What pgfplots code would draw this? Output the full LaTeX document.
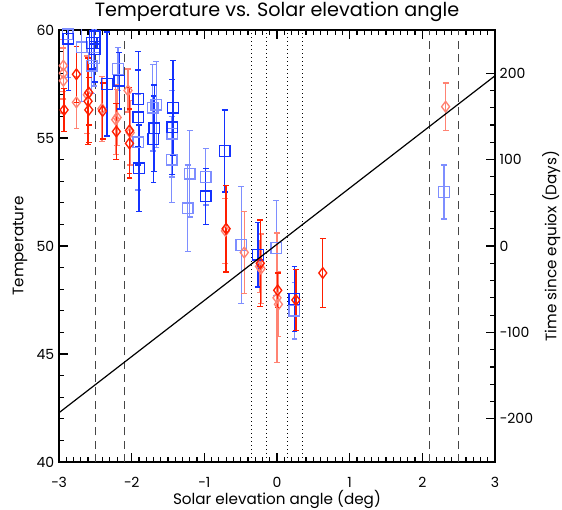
\documentclass[border=0pt]{standalone}
\usepackage{pgfplots}
\pgfplotsset{compat=1.18}
\usepackage{pgfplotstable}
\usepackage{fontspec}
\setmainfont{Poppins}
\definecolor{ired}{RGB}{255,30,0}
\definecolor{iblue}{RGB}{20,50,255}
\definecolor{dgray}{RGB}{70,70,70}

% blue squares, full colour
\pgfplotstableread{
x y e
-2.87 59.6 2.4
-2.55 59.4 1.2
-2.51 59.7 1.5
-2.51 59.4 1.2
-2.51 59.1 1.5
-2.34 57.5 2.4
-2.17 57.65 1.3
-1.91 56.8 2.2
-1.91 55.95 2.2
-1.90 53.6 2.0
-1.69 55.45 2.0
-1.70 54.95 2.0
-1.43 56.4 2.2
-1.44 55.5 2.2
-0.98 52.3 1.3
-0.72 54.4 1.9
-0.26 49.6 1.5
0.24 47.55 1.5
}\bluedark
% blue squares, faded
\pgfplotstableread{
x y e
-2.88 59.8 2.0
-2.69 59.2 2.5
-2.52 58.7 1.3
-2.55 58.35 1.3
-2.19 58.2 1.0
-1.91 54.8 2.2
-1.71 56.4 2.0
-1.66 56.55 2.0
-1.44 55.2 2.0
-1.45 54.0 2.0
-1.20 53.35 2.0
-1.23 51.75 2.0
-0.98 53.2 1.3
-0.49 50.05 2.7
-0.01 49.9 2.2
0.24 47.0 1.3
2.30 52.5 1.25
}\bluelight
% red diamonds, full colour
\pgfplotstableread{
x y e
-2.93 56.3 1.0
-2.76 57.95 1.3
-2.60 56.7 2.0
-2.59 56.3 1.5
-2.59 57.1 1.5
-2.40 56.25 1.3
-2.21 55.3 1.3
-2.03 55.35 2.0
-2.03 54.75 1.6
-0.70 50.8 2.0
-0.23 49.2 2.0
0.01 47.95 0.8
0.26 47.5 1.4
0.63 48.75 1.6
}\reddark
% red diamonds, faded
\pgfplotstableread{
x y e
-2.94 58.35 1.2
-2.94 58.0 1.2
-2.94 57.65 1.5
-2.76 56.65 1.2
-2.61 57.0 1.8
-2.41 56.35 1.5
-2.22 55.85 1.6
-2.20 55.95 1.3
-2.05 57.2 1.0
-2.02 55.25 1.5
-0.71 50.7 1.5
-0.45 49.7 1.9
-0.22 48.95 1.6
-0.24 49.05 1.2
0.00 47.6 3.0
0.02 47.3 1.5
2.32 56.45 1.1
}\redlight

\pgfplotsset{
  errs/.style={only marks, line width=1pt, mark size=4pt,
    error bars/y dir=both, error bars/y explicit,
    error bars/error bar style={line width=1pt},
    error bars/error mark options={line width=1pt, mark size=2.2pt, rotate=90}},
  ticks1/.style={
    tick align=inside,
    major tick length=7pt, minor tick length=3.5pt,
    every tick/.append style={line width=0.9pt, black, solid},
    every minor tick/.append style={line width=0.9pt, black, solid},
    every major tick/.append style={line width=0.9pt, black, solid},
    axis line style={line width=0.9pt},
    ticklabel style={font=\fontsize{10.5}{12}\selectfont},
    label style={font=\fontsize{11.4}{13}\selectfont}},
}

\begin{document}
\begin{tikzpicture}
\begin{axis}[
  scale only axis, width=327pt, height=324pt,
  xmin=-3, xmax=3, ymin=40, ymax=60,
  xtick={-3,-2,-1,0,1,2,3},
  xticklabels={−3,−2,−1,0,1,2,3},
  minor x tick num=9,
  ytick={40,45,50,55,60},
  yticklabels={40,45,50,55,60},
  minor y tick num=4,
  xtick pos=both, ytick pos=left,
  ticks1,
  xticklabel style={yshift=-8pt},
  xlabel style={yshift=5pt},
  xlabel={Solar elevation angle (deg)},
  ylabel={Temperature},
  title={Temperature vs. Solar elevation angle},
  title style={font=\fontsize{14.4}{16}\selectfont, yshift=-3pt},
]
\addplot[dgray, line width=0.9pt, dash pattern=on 6pt off 4pt] coordinates {(-2.5,40) (-2.5,60)};
\addplot[dgray, line width=0.9pt, dash pattern=on 6pt off 4pt] coordinates {(-2.1,40) (-2.1,60)};
\addplot[dgray, line width=0.9pt, dash pattern=on 6pt off 4pt] coordinates {(2.1,40) (2.1,60)};
\addplot[dgray, line width=0.9pt, dash pattern=on 6pt off 4pt] coordinates {(2.5,40) (2.5,60)};
\addplot[black, line width=0.8pt, dash pattern=on 0.8pt off 2.2pt] coordinates {(-0.35,40) (-0.35,60)};
\addplot[black, line width=0.8pt, dash pattern=on 0.8pt off 2.2pt] coordinates {(-0.15,40) (-0.15,60)};
\addplot[black, line width=0.8pt, dash pattern=on 0.8pt off 2.2pt] coordinates {(0.15,40) (0.15,60)};
\addplot[black, line width=0.8pt, dash pattern=on 0.8pt off 2.2pt] coordinates {(0.35,40) (0.35,60)};

\addplot[errs, iblue!55!white, mark=square] table[x=x, y=y, y error=e] {\bluelight};
\addplot[errs, ired!55!white, mark=diamond] table[x=x, y=y, y error=e] {\redlight};
\addplot[errs, iblue, mark=square] table[x=x, y=y, y error=e] {\bluedark};
\addplot[errs, ired, mark=diamond] table[x=x, y=y, y error=e] {\reddark};
\end{axis}
\begin{axis}[
  scale only axis, width=327pt, height=324pt,
  xmin=-3, xmax=3, ymin=-250, ymax=250,
  axis x line=none, axis y line*=right,
  ytick={-200,-100,0,100,200},
  yticklabels={−200,−100,0,100,200},
  minor y tick num=4,
  ticks1,
  ylabel={Time since equiox (Days)},
]
\addplot[black, line width=0.9pt] coordinates {(-3,-193) (3,197)};
\end{axis}
\pgfresetboundingbox
\path (-44.25pt,-36pt) rectangle (377.25pt,346.5pt);
\end{tikzpicture}
\end{document}
